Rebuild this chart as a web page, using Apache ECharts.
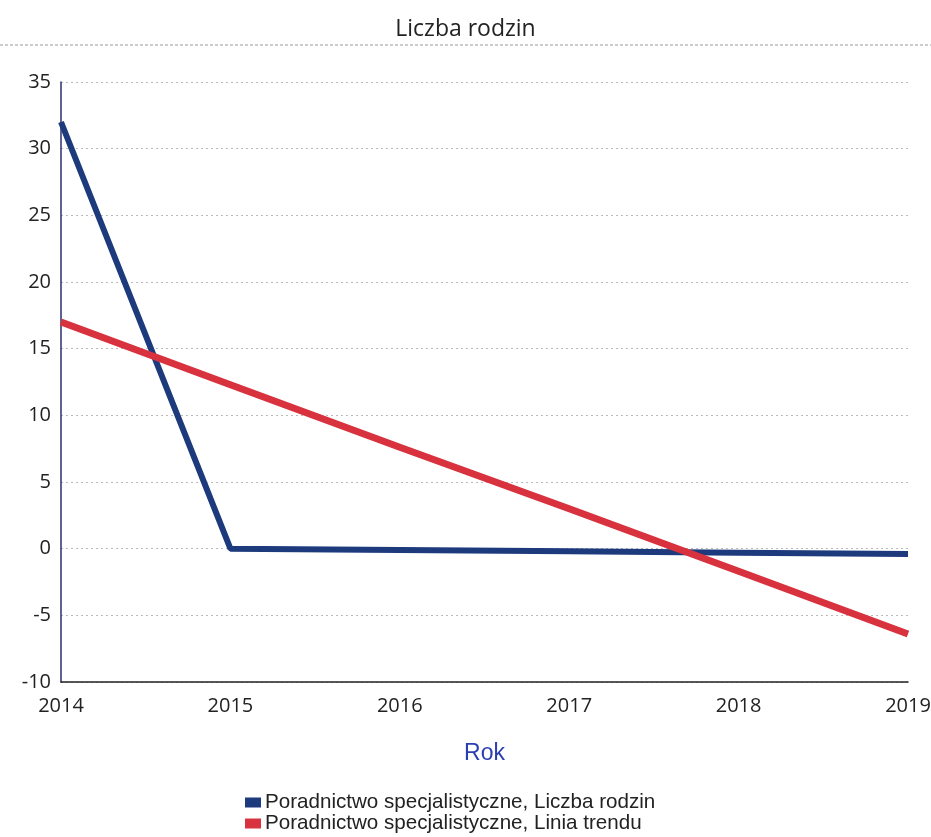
<!DOCTYPE html>
<html><head><meta charset="utf-8">
<script src="https://cdn.jsdelivr.net/npm/echarts@6/dist/echarts.min.js"></script>
<style>html,body{margin:0;padding:0;background:#fff}#c{width:931px;height:837px}</style>
</head><body><div id="c"></div>
<script>
const years = ['2014','2015','2016','2017','2018','2019'];
const liczbaRodzin = [32, 0, -0.1, -0.2, -0.3, -0.4];
const liniaTrendu = [17, 12.3, 7.6, 3.0, -1.7, -6.4];
const yTicks = [-10, 35, 5];
const seriesNames = ['Poradnictwo specjalistyczne, Liczba rodzin', 'Poradnictwo specjalistyczne, Linia trendu'];

const legendBase = {orient:'vertical', left:240, itemWidth:16, itemHeight:10, icon:'rect',
  textStyle:{fontFamily:'Liberation Sans', fontSize:20.6, color:'#222', padding:[0,0,0,-1]}};

const chart = echarts.init(document.getElementById('c'), null, {renderer:'canvas'});
chart.setOption({
  backgroundColor:'#fff',
  animation:false,
  title:{text:'Liczba rodzin', left:'center', top:13,
    textStyle:{fontFamily:'Open Sans', fontSize:23, fontWeight:'normal', color:'#222'}},
  graphic:[{type:'line', shape:{x1:0,y1:45,x2:931,y2:45},
    style:{stroke:'#999', lineWidth:1, lineDash:[3,2]}}],
  grid:{left:61, right:23, top:82, bottom:155, containLabel:false, outerBoundsMode:'none'},
  legend:[
    Object.assign({}, legendBase, {top:787, data:[seriesNames[0]]}),
    Object.assign({}, legendBase, {top:808, data:[seriesNames[1]]})
  ],
  xAxis:{type:'category', data:years, boundaryGap:false,
    name:'Rok', nameLocation:'middle', nameGap:60,
    nameTextStyle:{fontFamily:'Liberation Sans', fontSize:23, color:'#2a3fb0'},
    axisLine:{onZero:false, lineStyle:{color:'#222', width:1.5}}, axisTick:{show:false},
    axisLabel:{fontFamily:'Open Sans', fontSize:20, color:'#222', margin:14,
      alignMinLabel:'center', alignMaxLabel:'center'},
    splitLine:{show:false}},
  yAxis:{type:'value', min:yTicks[0], max:yTicks[1], interval:yTicks[2],
    axisLine:{show:true, lineStyle:{color:'#2a2f6a', width:1.5}}, axisTick:{show:false},
    axisLabel:{fontFamily:'Open Sans', fontSize:20, color:'#222', margin:10},
    splitLine:{lineStyle:{color:'#bbb', type:[2,3], width:1}}},
  series:[
    {name:seriesNames[0], type:'line', data:liczbaRodzin, showSymbol:false, symbol:'none',
      lineStyle:{color:'#1d3a7c', width:6}, itemStyle:{color:'#1d3a7c'}, z:3},
    {name:seriesNames[1], type:'line', data:liniaTrendu, showSymbol:false, symbol:'none',
      lineStyle:{color:'#d8323f', width:7}, itemStyle:{color:'#d8323f'}, z:4}
  ]
});
</script></body></html>
